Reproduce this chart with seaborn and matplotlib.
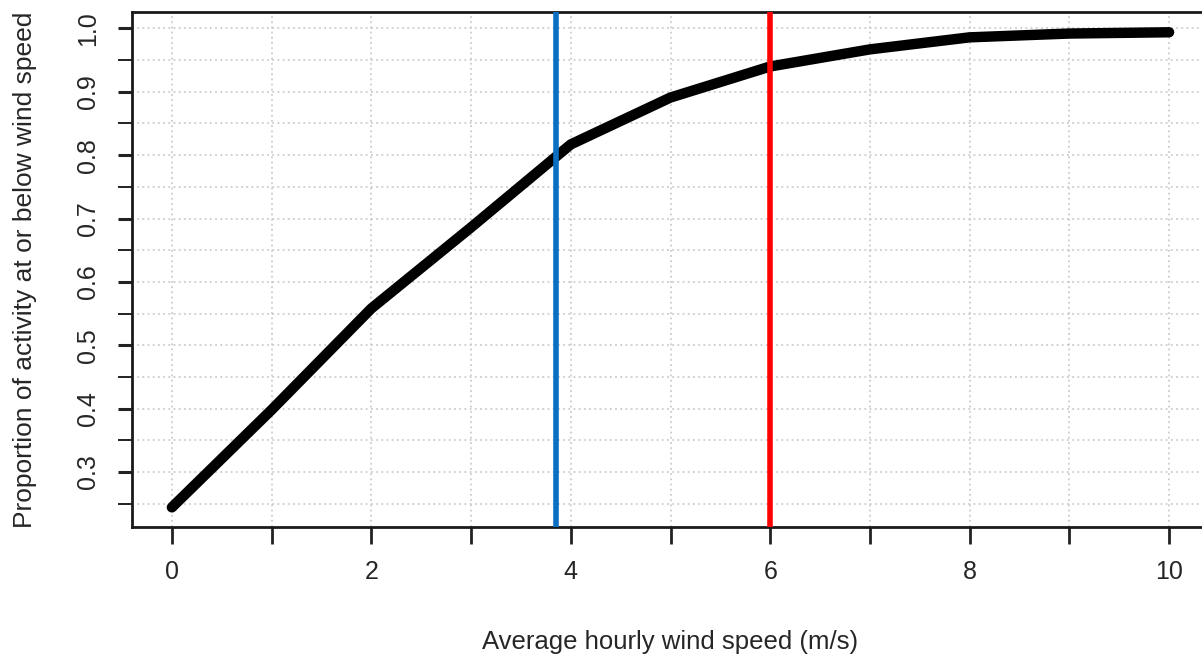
import numpy as np
import pandas as pd
import matplotlib
matplotlib.use("Agg")
import matplotlib.pyplot as plt
from matplotlib.ticker import FixedLocator
import seaborn as sns

# Cumulative proportion of activity by average hourly wind speed
wind_speed = [0, 1, 2, 3, 4, 5, 6, 7, 8, 9, 10]
proportion = [0.244, 0.398, 0.558, 0.686, 0.817, 0.891, 0.940, 0.967, 0.986, 0.992, 0.994]

# Reference thresholds (m/s)
threshold_blue = 3.85
threshold_red = 6.0

x_ticks = list(range(0, 11))
x_labels = ["0", "", "2", "", "4", "", "6", "", "8", "", "10"]
y_major = [0.3, 0.4, 0.5, 0.6, 0.7, 0.8, 0.9, 1.0]
y_minor = [0.25, 0.35, 0.45, 0.55, 0.65, 0.75, 0.85, 0.95]

df = pd.DataFrame({"speed": wind_speed, "prop": proportion})

sns.set_style("white")
plt.rcParams["font.family"] = ["Liberation Sans", "DejaVu Sans"]

fig = plt.figure(figsize=(12.02, 6.56), dpi=100)
ax = fig.add_axes([132 / 1202, 129 / 656, 1077 / 1202, 515 / 656])

text_color = "#262626"

# Dotted grid at every x unit and every 0.05 in y
for gx in x_ticks:
    ax.axvline(gx, color="#c4c4c4", lw=1.1, ls=(0, (1.2, 2.2)), zorder=0)
for gy in y_major + y_minor:
    ax.axhline(gy, color="#c4c4c4", lw=1.1, ls=(0, (1.2, 2.2)), zorder=0)

sns.lineplot(data=df, x="speed", y="prop", ax=ax, color="black", lw=7.5,
             solid_capstyle="round", solid_joinstyle="round", zorder=3)

ax.axvline(threshold_blue, color="#0a6fc2", lw=4.0, zorder=4)
ax.axvline(threshold_red, color="#ff0000", lw=4.0, zorder=4)

ax.set_xlim(-0.4, 10.4)
ax.set_ylim(0.213, 1.026)

ax.xaxis.set_major_locator(FixedLocator(x_ticks))
ax.set_xticklabels(x_labels)
ax.yaxis.set_major_locator(FixedLocator(y_major))
ax.yaxis.set_minor_locator(FixedLocator(y_minor))
ax.set_yticklabels([f"{v:.1f}" for v in y_major], rotation=90, va="center")

ax.tick_params(axis="x", which="major", direction="out", length=12, width=2.0,
               color="#222222", labelsize=18, labelcolor=text_color, pad=12,
               bottom=True)
ax.tick_params(axis="y", which="major", direction="out", length=10, width=2.2,
               color="#222222", labelsize=18, labelcolor=text_color, pad=13,
               left=True)
ax.tick_params(axis="y", which="minor", direction="out", length=10, width=1.4,
               color="#222222", left=True)

for side in ["left", "bottom", "top", "right"]:
    ax.spines[side].set_visible(True)
    ax.spines[side].set_color("#1a1a1a")
    ax.spines[side].set_linewidth(2.0)

ax.set_xlabel("Average hourly wind speed (m/s)", fontsize=18.5, color=text_color,
              labelpad=33)
ax.set_ylabel("Proportion of activity at or below wind speed", fontsize=19,
              color=text_color, labelpad=28)
ax.grid(False)

fig.savefig("out.png", dpi=100)
